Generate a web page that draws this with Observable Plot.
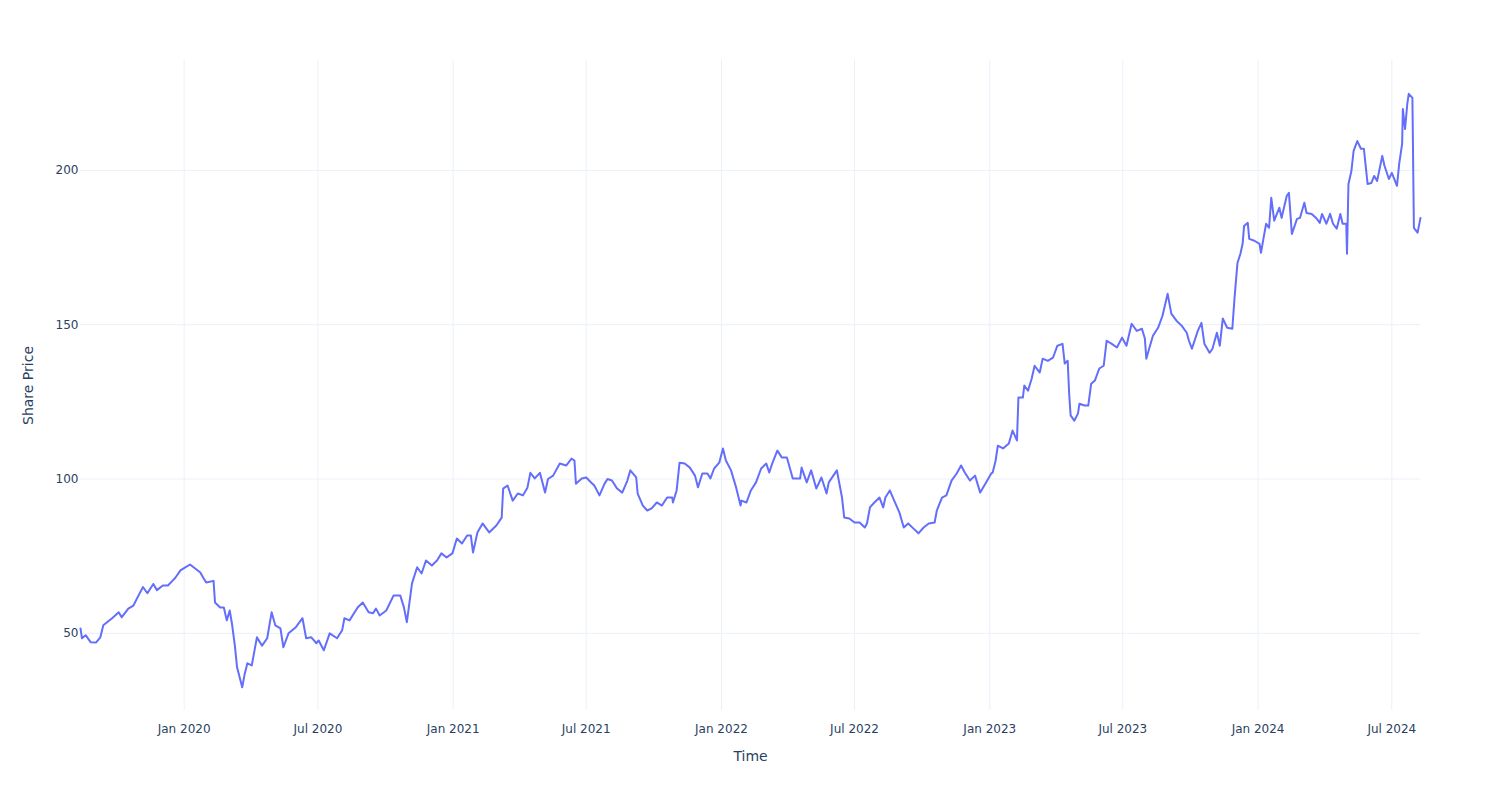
<!DOCTYPE html>
<html><head><meta charset="utf-8">
<script src="https://cdn.jsdelivr.net/npm/d3@7"></script>
<script src="https://cdn.jsdelivr.net/npm/@observablehq/plot@0.6"></script>
<style>body{margin:0;background:#fff;}</style>
</head><body><div id="chart"></div>
<script>
const dates = [
"2019-08-13","2019-08-15","2019-08-20","2019-08-27","2019-09-03","2019-09-09","2019-09-13","2019-09-25","2019-10-04","2019-10-08",
"2019-10-17","2019-10-24","2019-10-31","2019-11-06","2019-11-12","2019-11-20","2019-11-25","2019-12-03","2019-12-10","2019-12-16",
"2019-12-20","2019-12-27",
"2020-01-02","2020-01-09","2020-01-16","2020-01-23","2020-01-27","2020-01-31","2020-02-10","2020-02-12","2020-02-19","2020-02-24",
"2020-02-28","2020-03-03","2020-03-06","2020-03-10","2020-03-13","2020-03-20","2020-03-23","2020-03-27","2020-04-02","2020-04-09",
"2020-04-16","2020-04-23","2020-04-29","2020-05-04","2020-05-11","2020-05-15","2020-05-22","2020-06-01","2020-06-10","2020-06-15",
"2020-06-22","2020-06-29","2020-07-02","2020-07-09","2020-07-17","2020-07-27","2020-08-03","2020-08-06","2020-08-13","2020-08-24",
"2020-08-31","2020-09-08","2020-09-14","2020-09-18","2020-09-23","2020-10-02","2020-10-12","2020-10-21","2020-10-26","2020-10-30",
"2020-11-06","2020-11-13","2020-11-19","2020-11-25","2020-12-03","2020-12-10","2020-12-16","2020-12-23","2020-12-31",
"2021-01-06","2021-01-13","2021-01-20","2021-01-25","2021-01-28","2021-02-03","2021-02-10","2021-02-19","2021-03-01","2021-03-08",
"2021-03-10","2021-03-16","2021-03-23","2021-03-30","2021-04-06","2021-04-12","2021-04-16","2021-04-22","2021-04-29","2021-05-06",
"2021-05-10","2021-05-17","2021-05-26","2021-06-04","2021-06-11","2021-06-15","2021-06-17","2021-06-25","2021-07-01","2021-07-08",
"2021-07-12","2021-07-19","2021-07-26","2021-07-30","2021-08-05","2021-08-12","2021-08-19","2021-08-26","2021-08-30","2021-09-07",
"2021-09-09","2021-09-16","2021-09-22","2021-09-28","2021-10-05","2021-10-12","2021-10-19","2021-10-26","2021-10-27","2021-11-01",
"2021-11-05","2021-11-12","2021-11-19","2021-11-26","2021-11-30","2021-12-06","2021-12-13","2021-12-17","2021-12-22","2021-12-29",
"2022-01-03","2022-01-07","2022-01-14","2022-01-21","2022-01-27","2022-01-28","2022-02-04","2022-02-10","2022-02-17","2022-02-24",
"2022-03-03","2022-03-07","2022-03-11","2022-03-18","2022-03-24","2022-03-31","2022-04-08","2022-04-18","2022-04-20","2022-04-27",
"2022-05-03","2022-05-10","2022-05-17","2022-05-24","2022-05-27","2022-06-07","2022-06-14","2022-06-17","2022-06-24","2022-07-01",
"2022-07-08","2022-07-15","2022-07-18","2022-07-22","2022-07-28","2022-08-04","2022-08-09","2022-08-12","2022-08-18","2022-08-24",
"2022-08-31","2022-09-06","2022-09-12","2022-09-19","2022-09-26","2022-10-03","2022-10-10","2022-10-18","2022-10-21","2022-10-28",
"2022-11-03","2022-11-10","2022-11-17","2022-11-23","2022-11-28","2022-12-05","2022-12-12","2022-12-19","2022-12-27",
"2023-01-03","2023-01-05","2023-01-09","2023-01-12","2023-01-19","2023-01-27","2023-02-01","2023-02-07","2023-02-09","2023-02-15",
"2023-02-17","2023-02-22","2023-02-27","2023-03-03","2023-03-10","2023-03-14","2023-03-21","2023-03-28","2023-04-03","2023-04-10",
"2023-04-13","2023-04-17","2023-04-19","2023-04-21","2023-04-26","2023-05-01","2023-05-03","2023-05-10","2023-05-15","2023-05-19",
"2023-05-24","2023-05-30","2023-06-05","2023-06-09","2023-06-16","2023-06-23","2023-06-30","2023-07-06","2023-07-13","2023-07-20",
"2023-07-27","2023-07-31","2023-08-02","2023-08-07","2023-08-11","2023-08-18","2023-08-24","2023-08-31","2023-09-05","2023-09-12",
"2023-09-19","2023-09-26","2023-09-29","2023-10-03","2023-10-11","2023-10-16","2023-10-20","2023-10-27","2023-10-31","2023-11-06",
"2023-11-10","2023-11-14","2023-11-20","2023-11-27","2023-11-30","2023-12-04","2023-12-08","2023-12-11","2023-12-13","2023-12-18",
"2023-12-20","2023-12-27",
"2024-01-03","2024-01-05","2024-01-09","2024-01-12","2024-01-16","2024-01-19","2024-01-23","2024-01-30","2024-02-02","2024-02-09",
"2024-02-12","2024-02-16","2024-02-23","2024-02-27","2024-03-04","2024-03-07","2024-03-14","2024-03-20","2024-03-25","2024-03-28",
"2024-04-03","2024-04-08","2024-04-12","2024-04-17","2024-04-22","2024-04-25","2024-04-30","2024-05-01","2024-05-03","2024-05-07",
"2024-05-10","2024-05-15","2024-05-20","2024-05-24","2024-05-29","2024-06-03","2024-06-07","2024-06-11","2024-06-18","2024-06-21",
"2024-06-27","2024-07-01","2024-07-08","2024-07-11","2024-07-15","2024-07-16","2024-07-19","2024-07-22","2024-07-24","2024-07-29",
"2024-07-31","2024-08-05","2024-08-09"
];
const prices = [
51.6,48.4,49.4,47.1,47.0,48.7,52.6,54.9,56.8,55.2,
58.0,59.0,62.3,65.0,63.0,66.0,64.0,65.5,65.5,67.0,
68.0,70.4,
71.3,72.3,71.0,69.7,68.0,66.5,67.0,60.0,58.4,58.4,
54.2,57.4,53.2,46.0,39.0,32.5,36.4,40.3,39.6,48.7,
46.0,48.4,56.8,52.6,51.6,45.5,50.0,52.0,54.9,48.4,
48.7,46.8,47.7,44.5,50.0,48.4,51.0,54.9,54.2,58.4,
60.0,56.8,56.5,58.0,55.8,57.4,62.3,62.3,58.4,53.6,
66.2,71.4,69.4,73.6,72.0,73.6,75.9,74.6,75.9,
80.7,79.1,81.7,81.7,76.2,82.7,85.6,82.7,85.0,87.5,
96.9,97.9,93.0,95.3,94.7,97.2,102.0,100.2,102.0,95.6,
100.0,101.1,105.0,104.4,106.6,106.0,98.5,100.2,100.5,98.8,
97.9,94.7,98.5,100.0,99.5,96.9,95.6,99.5,102.8,100.5,
95.3,91.4,89.8,90.5,92.4,91.4,94.0,94.0,92.4,96.3,
105.3,105.0,103.7,101.1,97.3,101.8,101.8,100.2,103.4,105.3,
109.9,106.0,102.8,97.2,91.4,93.0,92.4,96.3,98.9,103.4,
105.0,102.1,105.0,109.2,107.0,107.0,100.2,100.2,103.7,98.9,
102.8,96.9,100.5,95.3,98.9,102.8,94.0,87.5,87.2,85.9,
85.9,84.3,85.6,90.8,92.4,94.0,90.8,94.0,96.3,93.0,
89.2,84.3,85.6,84.0,82.4,84.3,85.6,85.9,89.8,94.0,
94.7,99.5,101.8,104.4,102.1,99.5,101.1,95.6,98.9,
101.8,102.1,106.0,110.8,109.9,111.5,115.7,112.5,126.4,126.4,
130.3,128.6,132.5,136.7,134.5,139.0,138.3,139.3,143.2,143.8,
137.4,138.3,127.7,120.6,118.9,121.2,124.4,123.8,123.8,130.9,
131.9,135.8,136.7,144.8,143.8,142.6,145.8,143.2,150.3,148.0,
148.7,145.5,139.0,143.2,146.4,149.0,152.9,160.0,153.6,151.3,
149.7,147.4,144.8,142.2,148.0,150.6,143.8,140.9,142.2,147.4,
143.2,152.0,149.0,148.7,158.7,170.0,173.0,176.2,182.0,183.0,
177.8,177.2,
176.2,173.3,178.8,182.7,181.4,191.1,183.7,187.9,184.6,191.7,
192.7,179.4,184.3,184.6,189.5,186.2,185.9,184.6,183.0,185.9,
182.7,185.9,182.7,181.1,185.9,182.7,182.7,173.0,195.6,199.8,
206.3,209.5,207.0,207.0,195.6,195.9,198.2,196.6,204.7,201.5,
197.2,199.2,195.0,202.1,208.6,219.9,213.4,221.5,224.8,223.5,
181.4,179.8,184.6
];
const xTickDates = ["2020-01-01","2020-07-01","2021-01-01","2021-07-01","2022-01-01","2022-07-01","2023-01-01","2023-07-01","2024-01-01","2024-07-01"];
const yTicks = [50, 100, 150, 200];
const xTitle = "Time";
const yTitle = "Share Price";

const parse = s => new Date(s + "T00:00:00Z");
const data = dates.map((d, i) => ({date: parse(d), price: prices[i]}));
const xt = xTickDates.map(parse);
const fmt = d3.utcFormat("%b %Y");

const chart = Plot.plot({
  width: 1500, height: 800,
  marginLeft: 80, marginRight: 80, marginTop: 60, marginBottom: 90,
  style: {fontFamily: "'DejaVu Sans', Verdana, sans-serif", fontSize: "12px", color: "#2a3f5f", background: "#fff"},
  x: {type: "utc", domain: d3.extent(data, d => d.date), ticks: xt, tickFormat: fmt, tickSize: 0, tickPadding: 14, label: null},
  y: {domain: [25, 235.6], ticks: yTicks, tickSize: 0, tickPadding: 2, label: null},
  marks: [
    Plot.ruleX(xt, {stroke: "#EBF0F8", strokeWidth: 1}),
    Plot.ruleY(yTicks, {stroke: "#EBF0F8", strokeWidth: 1}),
    Plot.line(data, {x: "date", y: "price", stroke: "#636efa", strokeWidth: 2}),
    Plot.text([xTitle], {text: d => d, frameAnchor: "bottom", dy: 46, lineAnchor: "middle", textAnchor: "middle", fontSize: 14, fill: "#2a3f5f"}),
    Plot.text([yTitle], {text: d => d, frameAnchor: "left", dx: -52, rotate: -90, lineAnchor: "middle", textAnchor: "middle", fontSize: 14, fill: "#2a3f5f"})
  ]
});
document.getElementById("chart").append(chart);
</script>
</body></html>
